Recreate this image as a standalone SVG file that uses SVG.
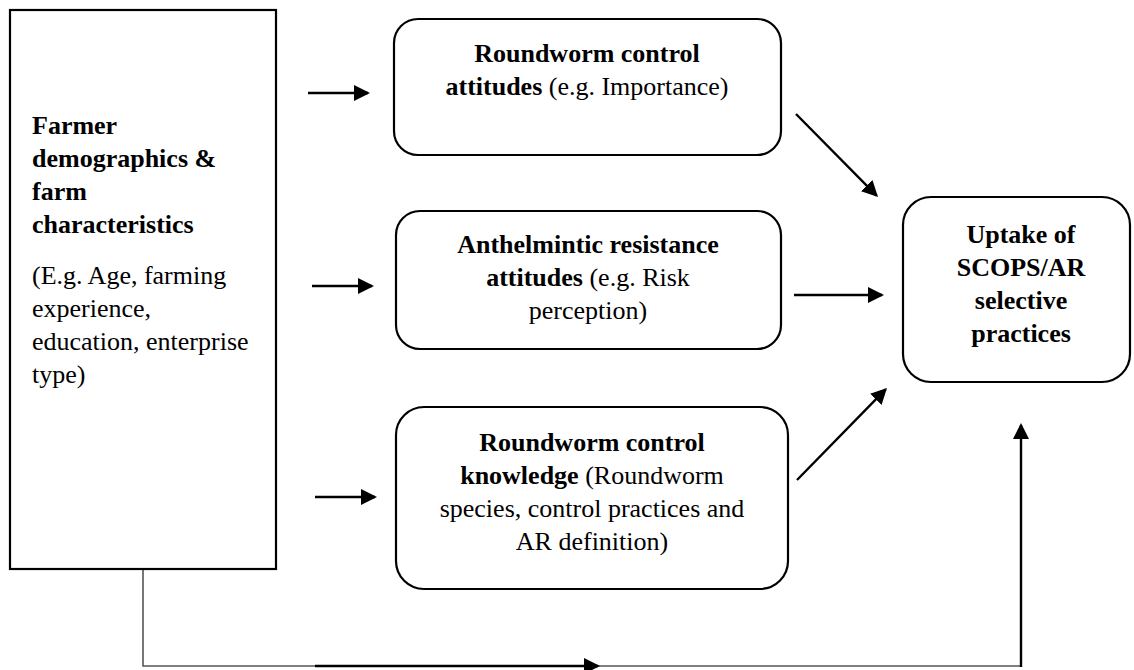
<svg xmlns="http://www.w3.org/2000/svg" width="1134" height="670" viewBox="0 0 1134 670">
<style>
.box{fill:#fff;stroke:#000;stroke-width:2.2}
.t{font-family:"Liberation Serif","Times New Roman",serif;font-size:26px;fill:#000}
.b{font-weight:bold}
.c{text-anchor:middle}
.arr{stroke:#000;stroke-width:2.4;fill:none;marker-end:url(#ah)}
.thin{stroke:#555;stroke-width:1.6;fill:none}
</style>
<defs>
<marker id="ah" markerUnits="userSpaceOnUse" markerWidth="18" markerHeight="18" refX="14" refY="8" orient="auto">
<path d="M0,0 L16,8 L0,16 z" fill="#000"/>
</marker>
</defs>
<rect width="1134" height="670" fill="#fff"/>
<g id="connectors">
<polyline class="thin" points="143,570 143,666 1021,666"/>
<line class="arr" x1="315" y1="666" x2="598" y2="666"/>
<line class="arr" x1="1021" y1="667" x2="1021" y2="425"/>
<line class="arr" x1="308" y1="93" x2="368" y2="93"/>
<line class="arr" x1="312" y1="286" x2="372" y2="286"/>
<line class="arr" x1="315" y1="497" x2="375" y2="497"/>
<line class="arr" x1="796" y1="114" x2="876.6" y2="195.6"/>
<line class="arr" x1="794" y1="295" x2="882" y2="295"/>
<line class="arr" x1="797" y1="480" x2="885.6" y2="389.4"/>
</g>
<g id="demographics">
<rect class="box" x="10" y="10" width="266" height="559"/>
<text class="t b" x="32" y="134">Farmer</text>
<text class="t b" x="32" y="167">demographics &amp;</text>
<text class="t b" x="32" y="200">farm</text>
<text class="t b" x="32" y="233">characteristics</text>
<text class="t" x="32" y="284">(E.g. Age, farming</text>
<text class="t" x="32" y="317">experience,</text>
<text class="t" x="32" y="350">education, enterprise</text>
<text class="t" x="32" y="383">type)</text>
</g>
<g id="roundworm-attitudes">
<rect class="box" x="394" y="19" width="387" height="136" rx="24"/>
<text class="t b c" x="587" y="62">Roundworm control</text>
<text class="t c" x="587" y="95"><tspan class="b">attitudes</tspan> (e.g. Importance)</text>
</g>
<g id="ar-attitudes">
<rect class="box" x="396" y="211" width="385" height="138" rx="24"/>
<text class="t b c" x="588" y="253">Anthelmintic resistance</text>
<text class="t c" x="588" y="286"><tspan class="b">attitudes</tspan> (e.g. Risk</text>
<text class="t c" x="588" y="319">perception)</text>
</g>
<g id="roundworm-knowledge">
<rect class="box" x="396" y="407" width="392" height="182" rx="28"/>
<text class="t b c" x="592" y="451">Roundworm control</text>
<text class="t c" x="592" y="484"><tspan class="b">knowledge</tspan> (Roundworm</text>
<text class="t c" x="592" y="517">species, control practices and</text>
<text class="t c" x="592" y="550">AR definition)</text>
</g>
<g id="uptake">
<rect class="box" x="903" y="197" width="227" height="185" rx="28"/>
<text class="t b c" x="1021" y="243">Uptake of</text>
<text class="t b c" x="1021" y="276">SCOPS/AR</text>
<text class="t b c" x="1021" y="309">selective</text>
<text class="t b c" x="1021" y="342">practices</text>
</g>
</svg>
